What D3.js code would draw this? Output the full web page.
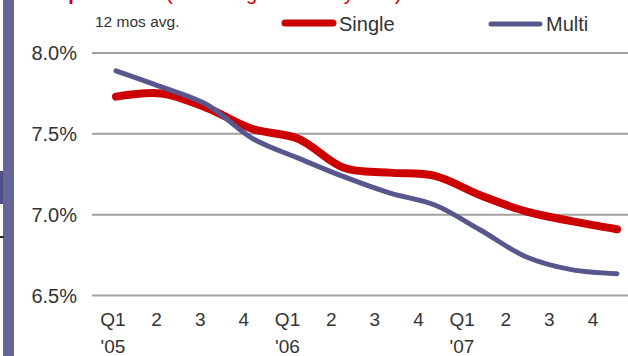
<!DOCTYPE html>
<html><head><meta charset="utf-8">
<script src="https://cdn.jsdelivr.net/npm/d3@7"></script>
<style>body{margin:0;background:#fff}svg{display:block}text{font-family:"Liberation Sans",Arial,sans-serif}</style>
</head><body><svg id="c" width="628" height="356"></svg>
<script>
const quarters = ["Q1","2","3","4","Q1","2","3","4","Q1","2","3","4"];
const years = ["'05","","","","'06","","","","'07","","",""];
const single = [7.73,7.75,7.66,7.53,7.47,7.29,7.26,7.24,7.12,7.02,6.96,6.91];
const multi  = [7.89,7.79,7.68,7.47,7.35,7.235,7.135,7.06,6.905,6.74,6.66,6.635];
const yTicks = [8.0,7.5,7.0,6.5];
const seriesNames = ["Single","Multi"];

const svg = d3.select("#c");
const y = d3.scaleLinear().domain([6.5,8.0]).range([295.5,53]);
const xLine = d3.scalePoint().domain(d3.range(quarters.length)).range([116,617]);
const xLab = d3.scalePoint().domain(d3.range(quarters.length)).range([113,593]);

// left decorative bar
svg.append("rect").attr("x",3).attr("y",0).attr("width",11).attr("height",356).attr("fill","#666699");
svg.append("rect").attr("x",0).attr("y",171).attr("width",3).attr("height",33).attr("fill","#505088");
svg.append("rect").attr("x",0).attr("y",236).attr("width",4).attr("height",2).attr("fill","#222");

// cropped title (only descenders visible)
svg.append("text").attr("x",55).attr("y",0).attr("fill","#cc0000").attr("font-size",20).attr("font-weight","bold").text("Spreads");
svg.append("text").attr("x",166).attr("y",0).attr("fill","#cc0000").attr("font-size",20).text("(excluding outliers by size)");

// grid
svg.append("g").selectAll("line").data(yTicks).join("line")
  .attr("x1",92).attr("x2",628).attr("y1",d=>y(d)).attr("y2",d=>y(d))
  .attr("stroke","#a0a0a0").attr("stroke-width",2);

// y labels
svg.append("g").selectAll("text").data(yTicks).join("text")
  .attr("x",77).attr("y",d=>y(d)+7).attr("text-anchor","end")
  .attr("font-size",20).attr("fill","#333").text(d=>d.toFixed(1)+"%");

// x labels
svg.append("g").selectAll("text").data(quarters).join("text")
  .attr("x",(d,i)=>xLab(i)).attr("y",326).attr("text-anchor","middle")
  .attr("font-size",19).attr("fill","#333").text(d=>d);
svg.append("g").selectAll("text").data(years.map((t,i)=>({t,i})).filter(d=>d.t)).join("text")
  .attr("x",d=>xLab(d.i)-12.5).attr("y",353)
  .attr("font-size",19).attr("fill","#333").text(d=>d.t);

svg.append("text").attr("x",95).attr("y",27).attr("font-size",15.5).attr("fill","#333").text("12 mos avg.");

const line = d3.line().x((d,i)=>xLine(i)).y(d=>y(d)).curve(d3.curveCatmullRom.alpha(0.5));
svg.append("path").datum(single).attr("d",line).attr("fill","none").attr("stroke","#cc0000").attr("stroke-width",8).attr("stroke-linecap","round");
svg.append("path").datum(multi).attr("d",line).attr("fill","none").attr("stroke","#57578e").attr("stroke-width",5).attr("stroke-linecap","round");

// legend
const leg = [{n:seriesNames[0],c:"#cc0000",w:7,x1:285,x2:333,ly:23,tx:339},{n:seriesNames[1],c:"#57578e",w:5,x1:491,x2:540,ly:24,tx:546}];
leg.forEach(l=>{
  svg.append("line").attr("x1",l.x1).attr("x2",l.x2).attr("y1",l.ly).attr("y2",l.ly).attr("stroke",l.c).attr("stroke-width",l.w).attr("stroke-linecap","round");
  svg.append("text").attr("x",l.tx).attr("y",31).attr("font-size",20).attr("fill","#333").text(l.n);
});
</script></body></html>
